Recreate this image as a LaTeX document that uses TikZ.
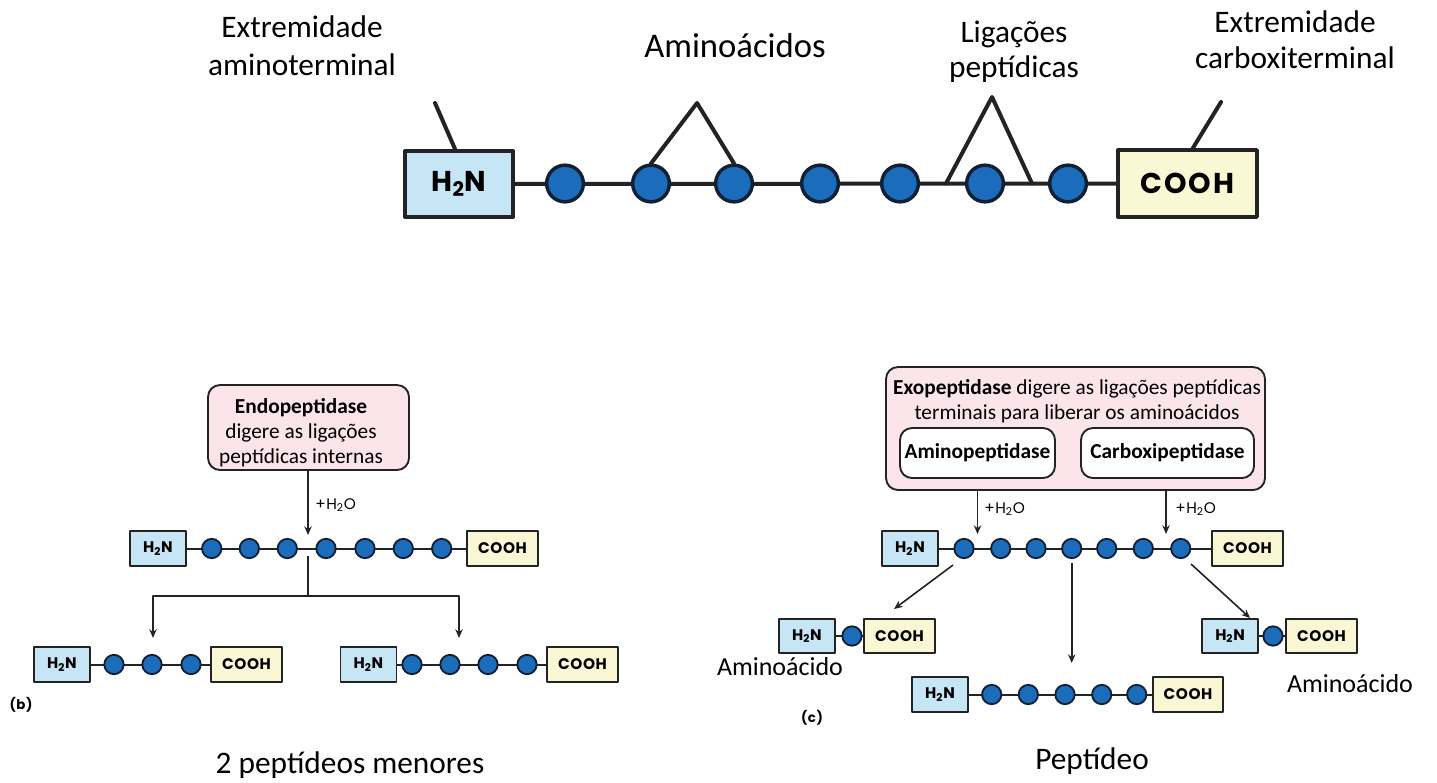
\documentclass[tikz,border=0pt]{standalone}
\usepackage{fontspec}
\setmainfont{Carlito}
\newfontfamily\chemfont[LetterSpace=4]{Poppins}
\newfontfamily\chembigfont[LetterSpace=7]{Poppins}
\usetikzlibrary{arrows.meta}

\definecolor{nblue}{RGB}{198,229,245}
\definecolor{cyellow}{RGB}{250,248,212}
\definecolor{aablue}{RGB}{28,108,188}
\definecolor{aaedge}{RGB}{18,32,52}
\definecolor{enzpink}{RGB}{251,228,234}
\definecolor{inkline}{RGB}{35,35,35}

\tikzset{
  bond/.style={line width=1.5pt,draw=inkline},
  bigbond/.style={line width=3pt,draw=inkline,line cap=round},
  nterm/.style={draw=inkline,fill=nblue,line width=1.4pt,inner sep=0pt,minimum width=42pt,minimum height=26pt,font=\chemfont\bfseries\fontsize{11.5}{13}\selectfont},
  cterm/.style={nterm,fill=cyellow,minimum width=53pt},
  aa/.style={circle,draw=aaedge,fill=aablue,line width=1.4pt,inner sep=0pt,minimum size=14.5pt},
  bignterm/.style={nterm,line width=3pt,minimum width=81pt,minimum height=49.5pt,font=\chembigfont\bfseries\fontsize{21.5}{25}\selectfont},
  bigcterm/.style={bignterm,fill=cyellow,minimum width=104pt,minimum height=50pt},
  bigaa/.style={aa,line width=2.6pt,minimum size=27.5pt},
  enzbox/.style={draw=inkline,fill=enzpink,line width=1.4pt,rounded corners=9pt},
  subbox/.style={draw=inkline,fill=white,line width=1.4pt,rounded corners=9pt,inner sep=0pt,font=\fontsize{16}{19}\selectfont\bfseries},
  enztext/.style={align=center,inner sep=0pt,anchor=base,font=\fontsize{16}{18.75}\selectfont},
  water/.style={anchor=west,inner sep=0pt,font=\chemfont\fontsize{11.5}{13}\selectfont},
  toplab/.style={align=center,inner sep=0pt,anchor=base,font=\fontsize{23.5}{28.5}\selectfont},
  capt/.style={inner sep=0pt,anchor=base,font=\fontsize{23.5}{27}\selectfont},
  panel/.style={inner sep=0pt,font=\chemfont\bfseries\fontsize{10}{12}\selectfont},
  arr/.style={->,line width=1.2pt,draw=inkline}
}

% one small chain: name, y, x of H2N, x of the residues, x of COOH
\newcommand{\peptidechain}[5]{%
  \node[nterm] (#1N) at (#3,#2) {H\textsubscript{2}N};
  \node[cterm] (#1C) at (#5,#2) {COOH};
  \draw[bond] (#1N) -- (#1C);
  \foreach \x [count=\i] in {#4}
    \node[aa] (#1\i) at (\x,#2) {};
}

\begin{document}
\begin{tikzpicture}[x=0.75pt,y=-0.75pt,>={Stealth[length=6.5pt,width=5.5pt]},line join=round]
\useasboundingbox (0,0) rectangle (1437,782);

% top: the chain with its labels
\node[toplab] (labN) at (302,75) {Extremidade\\aminoterminal};
\node[toplab,font=\fontsize{26}{30}\selectfont] (labAA) at (735,57) {Aminoácidos};
\node[toplab,font=\fontsize{23.5}{26.25}\selectfont] (labLig) at (1014,77) {Ligações\\peptídicas};
\node[toplab,font=\fontsize{23.5}{27}\selectfont] (labC) at (1295,68.5) {Extremidade\\carboxiterminal};

\node[bignterm] (topN) at (459,184) {H\textsubscript{2}N};
\node[bigcterm] (topC) at (1187.5,183.5) {COOH};
\draw[bigbond] (topN) -- (topC);
\foreach \x [count=\i] in {565,651,734,820,900,985,1068}
  \node[bigaa] (t\i) at (\x,183.5) {};

\coordinate (tkN) at (435,103);
\coordinate (tkC) at (1221,102);
\coordinate (apx1) at (697,103);
\coordinate (apx2) at (992,97);
\coordinate (lg1) at (946,183.5);
\coordinate (lg2) at (1032,183.5);
\draw[bigbond] ([xshift=-3pt]topN.north) -- (tkN);
\draw[bigbond] ([xshift=4pt]topC.north) -- (tkC);
\draw[bigbond] (t2.north) -- (apx1) -- (t3.north);
\draw[bigbond] (lg1) -- (apx2) -- (lg2);

% (b) endopeptidase
\node[enzbox,minimum width=150.75pt,minimum height=63.75pt] (endo) at (308.5,427.5) {};
\node[enztext] (endotxt) at (301,463) {\textbf{Endopeptidase}\\digere as ligações\\peptídicas internas};

\peptidechain{b}{548.5}{158}{211.7,249.3,287.3,326,365,403.3,441.7}{502.5}
\coordinate (cutB) at (308,535);
\draw[arr] (endo.south -| cutB) -- (cutB);
\node[water] (h2oB) at (315,505) {+H\textsubscript{2}O};

\coordinate (splitB) at (308,556);
\coordinate (joinB) at (308,596);
\coordinate (toL) at (153,638);
\coordinate (toR) at (459,638);
\draw[line width=1.5pt,draw=inkline] (splitB) -- (joinB);
\draw[arr] (joinB) -| (toL);
\draw[arr] (joinB) -| (toR);

\peptidechain{bl}{664.5}{62}{114,152,191}{246.5}
\peptidechain{br}{664.5}{368.5}{412,450,488,527}{582.5}

\node[panel] (pb) at (21,705) {(b)};
\node[capt] (captB) at (350,773) {2 peptídeos menores};

% (c) exopeptidase
\node[enzbox,minimum width=284.25pt,minimum height=92.25pt] (exo) at (1075.5,428.5) {};
\node[enztext] (exotxt) at (1077,419) {\textbf{Exopeptidase} digere as ligações peptídicas\\terminais para liberar os aminoácidos};
\node[subbox,minimum width=116.25pt,minimum height=37.5pt] (aminoP) at (977.5,453) {Aminopeptidase};
\node[subbox,minimum width=129.75pt,minimum height=37.5pt] (carboxP) at (1167.5,453) {Carboxipeptidase};

\peptidechain{c}{548.5}{910}{964,1000.7,1036,1071.7,1106.7,1143.3,1180.7}{1247.5}
\coordinate (cutL) at (977.5,534);
\coordinate (cutR) at (1166,534);
\draw[arr] (aminoP.south |- exo.south) -- (cutL);
\draw[arr] (exo.south -| cutR) -- (cutR);
\node[water] (h2oL) at (984,509) {+H\textsubscript{2}O};
\node[water] (h2oR) at (1175,509) {+H\textsubscript{2}O};

\peptidechain{al}{636}{807}{852}{899.5}
\peptidechain{ar}{636}{1230}{1273}{1321.5}
\peptidechain{p}{694.5}{940}{991.7,1028.3,1065,1101.7,1136.7}{1188}

\coordinate (dl1) at (953,565);
\coordinate (dl2) at (894,609);
\coordinate (dr1) at (1191,564);
\coordinate (dr2) at (1250,618);
\coordinate (pepTop) at (1071.7,663);
\draw[arr] (dl1) -- (dl2);
\draw[arr] (dr1) -- (dr2);
\draw[arr] ([yshift=-3pt]c4.south) -- (pepTop);

\node[capt,font=\fontsize{19.5}{22}\selectfont] (aaL) at (780,675) {Aminoácido};
\node[capt,font=\fontsize{19.5}{22}\selectfont] (aaR) at (1350,692) {Aminoácido};
\node[panel] (pc) at (812,718) {(c)};
\node[capt] (captC) at (1092,769) {Peptídeo};
\end{tikzpicture}
\end{document}
